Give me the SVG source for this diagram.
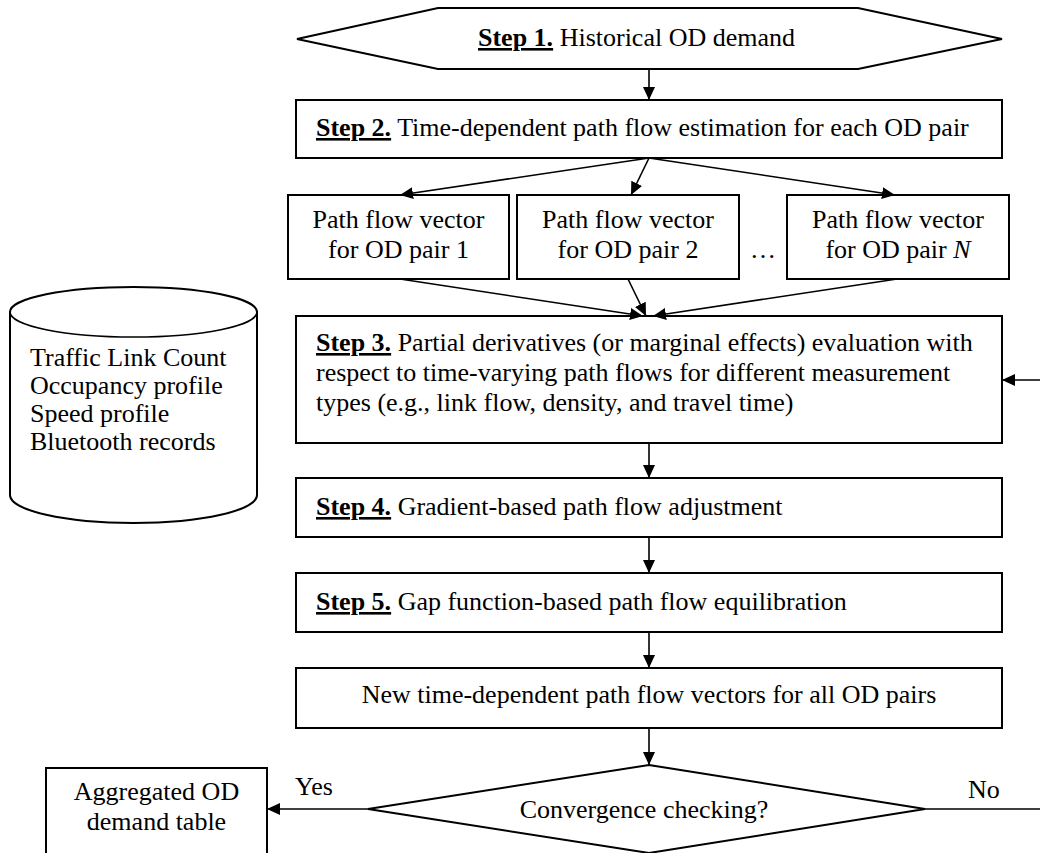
<svg xmlns="http://www.w3.org/2000/svg" width="1040" height="853" viewBox="0 0 1040 853">
  <style>
    .shape { fill: #ffffff; stroke: #000000; stroke-width: 2; }
    .conn { fill: none; stroke: #000000; stroke-width: 1.6; }
    text { font-family: "Liberation Serif", "Times New Roman", serif; font-size: 26px; fill: #000000; }
    .b { font-weight: bold; text-decoration: underline; }
    .c { text-anchor: middle; }
  </style>
  <defs>
    <marker id="arr" markerWidth="14" markerHeight="12" refX="13" refY="6" orient="auto" markerUnits="userSpaceOnUse">
      <path d="M0,0 L13,6 L0,12 z" fill="#000000"/>
    </marker>
  </defs>
  <rect width="1040" height="853" fill="#ffffff"/>

  <g id="step1">
    <polygon class="shape" points="297,39 438,8 858,8 1002,39 858,69 438,69"/>
    <text x="478" y="46" font-size="23"><tspan class="b">Step 1.</tspan> Historical OD demand</text>
  </g>

  <g id="step2">
    <rect class="shape" x="296" y="100" width="706" height="58"/>
    <text x="316" y="136"><tspan class="b">Step 2.</tspan> Time-dependent path flow estimation for each OD pair</text>
  </g>

  <g id="path1">
    <rect class="shape" x="288" y="195" width="221" height="84"/>
    <text class="c" x="398.5" y="228">Path flow vector</text>
    <text class="c" x="398.5" y="258">for OD pair 1</text>
  </g>
  <g id="path2">
    <rect class="shape" x="517" y="195" width="222" height="84"/>
    <text class="c" x="628" y="228">Path flow vector</text>
    <text class="c" x="628" y="258">for OD pair 2</text>
  </g>
  <g id="ellipsis">
    <text class="c" x="763" y="258">…</text>
  </g>
  <g id="pathN">
    <rect class="shape" x="787" y="195" width="222" height="84"/>
    <text class="c" x="898" y="228">Path flow vector</text>
    <text class="c" x="898" y="258">for OD pair <tspan font-style="italic">N</tspan></text>
  </g>

  <g id="database">
    <path class="shape" d="M10,312 L10,495 A123.5,28 0 0 0 257,495 L257,312 A123.5,25 0 0 0 10,312 z"/>
    <path class="conn" stroke-width="2" d="M10,312 A123.5,25 0 0 0 257,312"/>
    <text x="30" y="366">Traffic Link Count</text>
    <text x="30" y="394">Occupancy profile</text>
    <text x="30" y="422">Speed profile</text>
    <text x="30" y="450">Bluetooth records</text>
  </g>

  <g id="step3">
    <rect class="shape" x="296" y="316" width="706" height="127"/>
    <text x="316" y="351"><tspan class="b">Step 3.</tspan> Partial derivatives (or marginal effects) evaluation with</text>
    <text x="316" y="381">respect to time-varying path flows for different measurement</text>
    <text x="316" y="411">types (e.g., link flow, density, and travel time)</text>
  </g>

  <g id="step4">
    <rect class="shape" x="296" y="478" width="706" height="59"/>
    <text x="316" y="515"><tspan class="b">Step 4.</tspan> Gradient-based path flow adjustment</text>
  </g>

  <g id="step5">
    <rect class="shape" x="296" y="573" width="706" height="59"/>
    <text x="316" y="610"><tspan class="b">Step 5.</tspan> Gap function-based path flow equilibration</text>
  </g>

  <g id="newflows">
    <rect class="shape" x="296" y="668" width="706" height="60"/>
    <text class="c" x="649" y="703">New time-dependent path flow vectors for all OD pairs</text>
  </g>

  <g id="convergence">
    <polygon class="shape" points="649,765 925,809 649,853 368,809"/>
    <text class="c" x="644" y="818">Convergence checking?</text>
  </g>

  <g id="aggregated">
    <rect class="shape" x="46" y="768" width="221" height="92"/>
    <text class="c" x="156.5" y="800">Aggregated OD</text>
    <text class="c" x="156.5" y="830">demand table</text>
  </g>

  <g id="connectors">
    <path class="conn" d="M649,69 V100" marker-end="url(#arr)"/>
    <path class="conn" d="M649,158 L400,195" marker-end="url(#arr)"/>
    <path class="conn" d="M649,158 L631,195" marker-end="url(#arr)"/>
    <path class="conn" d="M649,158 L895,195" marker-end="url(#arr)"/>
    <path class="conn" d="M400,279 L643,316" marker-end="url(#arr)"/>
    <path class="conn" d="M628,279 L646,316" marker-end="url(#arr)"/>
    <path class="conn" d="M897,279 L653,316" marker-end="url(#arr)"/>
    <path class="conn" d="M649,443 V478" marker-end="url(#arr)"/>
    <path class="conn" d="M649,537 V573" marker-end="url(#arr)"/>
    <path class="conn" d="M649,632 V668" marker-end="url(#arr)"/>
    <path class="conn" d="M649,728 V765" marker-end="url(#arr)"/>
    <path class="conn" d="M368,809 H267" marker-end="url(#arr)"/>
    <path class="conn" d="M925,809 H1042 V380 H1002" marker-end="url(#arr)"/>
    <text x="295" y="795">Yes</text>
    <text x="968" y="798">No</text>
  </g>
</svg>
